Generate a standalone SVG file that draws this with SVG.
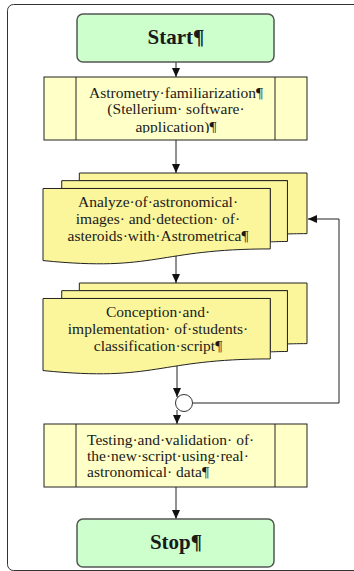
<svg xmlns="http://www.w3.org/2000/svg" width="354" height="571" viewBox="0 0 354 571">
<style>
.term{fill:#ccffcc;stroke:#555;stroke-width:1.5}
.proc{fill:#ffffc8;stroke:#222;stroke-width:1}
.doc{fill:#fbf59c;stroke:#222;stroke-width:1}
.t{font-family:'Liberation Serif','Times New Roman',serif;font-size:15.5px;fill:#1a1a1a}
.tb{font-family:'Liberation Serif','Times New Roman',serif;font-size:21px;font-weight:bold;fill:#1a1a1a}
.c{text-anchor:middle}
.ln{fill:none;stroke:#222;stroke-width:1}
</style>
<defs>
<marker id="ah" markerWidth="10" markerHeight="10" refX="9" refY="5" orient="auto" markerUnits="userSpaceOnUse">
<path d="M0,1 L9,5 L0,9 Z" fill="#111"/>
</marker>
<g id="multi">
<path class="doc" d="M36.32,7.65 L36.32,0 L264,0 L264,60.63 C254.22,60.63 244.44,60.95 244.44,60.95 L244.44,7.65 Z"/>
<path class="doc" d="M18.72,15.48 L18.72,7.65 L244.44,7.65 L244.44,68.47 C235.86,68.47 227.27,68.89 227.27,68.89 L227.27,15.48 Z"/>
<path class="doc" d="M0,87.55 C113.64,99.18 113.64,75.93 227.27,75.93 L227.27,15.48 L0,15.48 Z"/>
</g>
<clipPath id="clip2"><rect x="44" y="77" width="263" height="56"/></clipPath>
</defs>
<rect x="7.5" y="4.5" width="400" height="566" rx="6" fill="none" stroke="#333" stroke-width="1"/>
<g id="connectors">
<line class="ln" x1="176" y1="62" x2="176" y2="77" marker-end="url(#ah)"/>
<line class="ln" x1="176" y1="140" x2="176" y2="173" marker-end="url(#ah)"/>
<line class="ln" x1="176" y1="256" x2="176" y2="283" marker-end="url(#ah)"/>
<line class="ln" x1="177" y1="366" x2="177" y2="397" marker-end="url(#ah)"/>
<line class="ln" x1="177" y1="410" x2="177" y2="424" marker-end="url(#ah)"/>
<polyline class="ln" points="192.5,403 339,403 339,219 308,219" marker-end="url(#ah)"/>
<line class="ln" x1="176" y1="487" x2="176" y2="519" marker-end="url(#ah)"/>
</g>
<g id="start">
<rect class="term" x="77" y="14" width="197" height="48" rx="6"/>
<text class="tb c" x="176" y="44">Start¶</text>
</g>
<g id="familiarization">
<rect class="proc" x="44" y="77" width="263" height="63"/>
<line class="ln" x1="76" y1="77" x2="76" y2="140"/>
<line class="ln" x1="275" y1="77" x2="275" y2="140"/>
<g clip-path="url(#clip2)">
<text class="t c" x="176" y="98">Astrometry·familiarization¶</text>
<text class="t c" x="176" y="114">(Stellerium· software·</text>
<text class="t c" x="176" y="132">application)¶</text>
</g>
</g>
<g id="analyze">
<use href="#multi" transform="translate(43,173)"/>
<text class="t c" x="158" y="207">Analyze·of·astronomical·</text>
<text class="t c" x="158" y="224">images· and·detection· of·</text>
<text class="t c" x="158" y="241">asteroids·with·Astrometrica¶</text>
</g>
<g id="conception">
<use href="#multi" transform="translate(43,283)"/>
<text class="t c" x="158" y="317">Conception·and·</text>
<text class="t c" x="158" y="334">implementation· of·students·</text>
<text class="t c" x="158" y="351">classification·script¶</text>
</g>
<g id="merge">
<circle cx="184" cy="403" r="8.5" fill="#fff" stroke="#333" stroke-width="1"/>
</g>
<g id="testing">
<rect class="proc" x="44" y="424" width="263" height="63"/>
<line class="ln" x1="76" y1="424" x2="76" y2="487"/>
<line class="ln" x1="275" y1="424" x2="275" y2="487"/>
<text class="t" x="87" y="445">Testing·and·validation· of·</text>
<text class="t" x="87" y="461">the·new·script·using·real·</text>
<text class="t" x="87" y="477">astronomical· data¶</text>
</g>
<g id="stop">
<rect class="term" x="77" y="519" width="197" height="48" rx="6"/>
<text class="tb c" x="176" y="549">Stop¶</text>
</g>
</svg>
